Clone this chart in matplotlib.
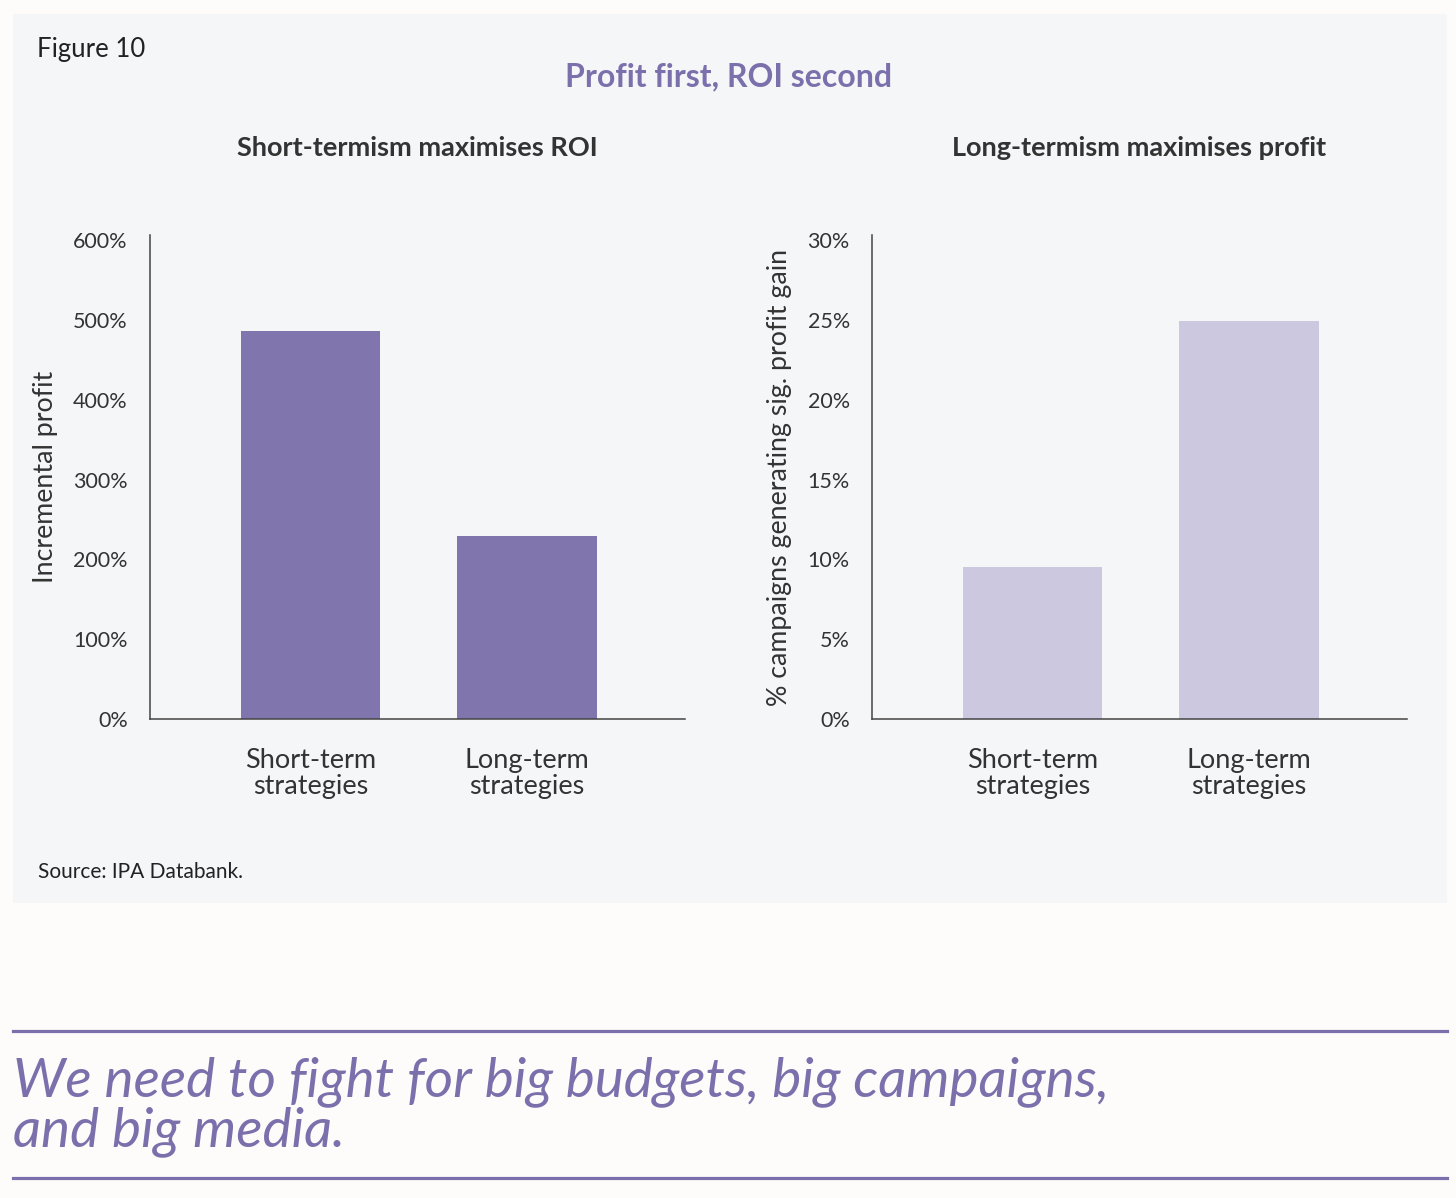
import matplotlib
matplotlib.use('Agg')
import matplotlib.pyplot as plt
from matplotlib.patches import Rectangle
from matplotlib.lines import Line2D

plt.rcParams['font.family'] = ['Lato', 'DejaVu Sans']

categories = ['Short-term\nstrategies', 'Long-term\nstrategies']
roi_values = [486, 229]          # incremental profit, %
profit_values = [9.5, 24.9]      # % campaigns generating sig. profit gain
roi_ticks = [0, 100, 200, 300, 400, 500, 600]
profit_ticks = [0, 5, 10, 15, 20, 25, 30]

DARK = '#8076ad'
LIGHT = '#ccc8e0'
PURPLE = '#7b70ac'
TEXT = '#333333'

fig = plt.figure(figsize=(14.56, 11.98), dpi=100)
fig.patch.set_facecolor('#fdfcfa')

# grey panel behind the charts
fig.patches.append(Rectangle((13 / 1456, 1 - 903 / 1198), 1434 / 1456, 889 / 1198,
                             transform=fig.transFigure, facecolor='#f5f6f7',
                             edgecolor='none', zorder=-5))


def bar_panel(left, values, ticks, colour, ylabel, title):
    ax = fig.add_axes([left / 1456, 1 - 719 / 1198, 535 / 1456, 484 / 1198])
    ax.set_facecolor('none')
    ax.set_zorder(2)
    x = range(len(values))
    ax.bar(x, values, width=0.645, color=colour, zorder=2)
    ax.set_xlim(-0.742, 1.73)
    ax.set_ylim(0, ticks[-1] * 484 / 479)
    ax.set_yticks(ticks)
    ax.set_yticklabels([f'{t}%' for t in ticks])
    ax.set_xticks(list(x))
    ax.set_xticklabels(categories, fontsize=19.5, color=TEXT, linespacing=1.05)
    for s in ('top', 'right'):
        ax.spines[s].set_visible(False)
    for s in ('left', 'bottom'):
        ax.spines[s].set_color('#444444')
        ax.spines[s].set_linewidth(1.1)
        ax.spines[s].set_zorder(3)
    ax.tick_params(axis='y', length=0, pad=16, labelsize=15.5, labelcolor=TEXT)
    ax.tick_params(axis='x', length=0, pad=21)
    ax.set_ylabel(ylabel, fontsize=19.3, color=TEXT, labelpad=11)
    fig.text((left + 267) / 1456, 1 - 148 / 1198, title, ha='center', va='center',
             fontsize=19.5, fontweight='bold', color=TEXT)
    return ax


ax1 = bar_panel(150, roi_values, roi_ticks, DARK, 'Incremental profit',
                'Short-termism maximises ROI')
ax2 = bar_panel(872, profit_values, profit_ticks, LIGHT,
                '% campaigns generating sig. profit gain',
                'Long-termism maximises profit')

fig.text(37 / 1456, 1 - 50 / 1198, 'Figure 10', ha='left', va='center',
         fontsize=18.5, color='#222222')
fig.text(729 / 1456, 1 - 77 / 1198, 'Profit first, ROI second', ha='center',
         va='center', fontsize=23, fontweight='bold', color=PURPLE)
fig.text(38 / 1456, 1 - 872 / 1198, 'Source: IPA Databank.', ha='left', va='center',
         fontsize=15, color='#222222')

# quote between two rules
for yy in (1031, 1178):
    fig.add_artist(Line2D([13 / 1456, 1447 / 1456], [1 - yy / 1198] * 2,
                          transform=fig.transFigure, color=PURPLE, lw=2.3))
fig.text(13 / 1456, 1 - 1146 / 1198,
         'We need to fight for big budgets, big campaigns,\nand big media.',
         ha='left', va='baseline', fontsize=39.5, style='italic', color=PURPLE,
         linespacing=0.98)

fig.savefig('out.png', dpi=100, facecolor=fig.get_facecolor())
